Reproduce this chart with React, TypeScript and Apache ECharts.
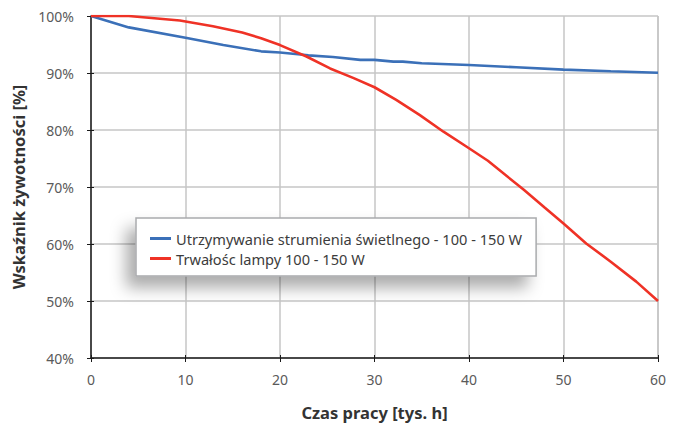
import React, { useEffect, useRef } from "react";
import * as echarts from "echarts";

const hoursK = [0, 4, 10, 14, 18, 20, 23, 25.6, 28.5, 30, 32, 33, 35, 40, 45, 50, 55, 60];
const fluxMaintenance = [100, 98.0, 96.2, 94.9, 93.8, 93.6, 93.1, 92.8, 92.3, 92.3, 92.0, 92.0, 91.7, 91.4, 91.0, 90.6, 90.3, 90.05];

const lifeHours = [0, 4, 9.4, 12.9, 16, 18, 20, 22.8, 25.3, 27.8, 30, 32.3, 34.8, 37.3, 40, 42, 45.8, 48, 50, 52.4, 55, 57.7, 60];
const lampLife = [100, 100, 99.2, 98.2, 97.1, 96.1, 94.9, 92.9, 90.8, 89.1, 87.5, 85.3, 82.6, 79.7, 76.8, 74.6, 69.5, 66.4, 63.6, 60.1, 56.9, 53.4, 50];

const seriesNames = [
  "Utrzymywanie strumienia świetlnego - 100 - 150 W",
  "Trwałośc lampy 100 - 150 W",
];
const xTitle = "Czas pracy [tys. h]";
const yTitle = "Wskaźnik żywotności [%]";

const FONT = "'Noto Sans', sans-serif";

export default function App() {
  const ref = useRef<HTMLDivElement>(null);
  useEffect(() => {
    if (!ref.current) return;
    const chart = echarts.init(ref.current, undefined, { renderer: "svg" });
    chart.setOption({
      animation: false,
      textStyle: { fontFamily: FONT },
      grid: { left: 91, right: 23, top: 16, bottom: 71 },
      legend: {
        orient: "vertical",
        left: 136,
        top: 218,
        padding: [13, 14, 10, 14],
        itemGap: 5,
        itemWidth: 21,
        itemHeight: 3,
        icon: "rect",
        backgroundColor: "#ffffff",
        borderColor: "#a9abad",
        borderWidth: 1.5,
        shadowColor: "rgba(0,0,0,0.33)",
        shadowBlur: 16,
        shadowOffsetX: -9,
        shadowOffsetY: 11,
        textStyle: { fontFamily: FONT, fontSize: 14.6, color: "#3c3c3c" },
        data: seriesNames,
      },
      xAxis: [
        {
          type: "value",
          min: 0,
          max: 60,
          interval: 10,
          name: xTitle,
          nameLocation: "middle",
          nameGap: 46,
          nameTextStyle: { fontFamily: FONT, fontSize: 16.5, fontWeight: "bold", color: "#333" },
          axisLine: { show: true, lineStyle: { color: "#1a1a1a", width: 1.5 } },
          axisTick: { show: true, length: 4, lineStyle: { color: "#1a1a1a" } },
          axisLabel: { fontFamily: FONT, fontSize: 14, color: "#5a5a5a", margin: 14 },
          splitLine: { show: true, lineStyle: { color: "#c6c6c6", width: 1.5 } },
        },
        {
          type: "value",
          min: 0,
          max: 60,
          interval: 10,
          position: "bottom",
          axisLine: { show: false },
          axisTick: { show: true, inside: true, length: 3, lineStyle: { color: "#1a1a1a" } },
          axisLabel: { show: false },
          splitLine: { show: false },
        },
      ],
      yAxis: [
        {
          type: "value",
          min: 40,
          max: 100,
          interval: 10,
          name: yTitle,
          nameLocation: "middle",
          nameGap: 59,
          nameTextStyle: { fontFamily: FONT, fontSize: 16.5, fontWeight: "bold", color: "#333" },
          axisLine: { show: true, lineStyle: { color: "#1a1a1a", width: 1.5 } },
          axisTick: { show: true, length: 4, lineStyle: { color: "#1a1a1a" } },
          axisLabel: { fontFamily: FONT, fontSize: 14, color: "#5a5a5a", margin: 17, formatter: "{value}%" },
          splitLine: { show: true, lineStyle: { color: "#c6c6c6", width: 1.5 } },
        },
        {
          type: "value",
          min: 40,
          max: 100,
          interval: 10,
          position: "left",
          axisLine: { show: false },
          axisTick: { show: true, inside: true, length: 3, lineStyle: { color: "#1a1a1a" } },
          axisLabel: { show: false },
          splitLine: { show: false },
        },
      ],
      graphic: [
        {
          type: "line",
          shape: { x1: 658, y1: 16, x2: 658, y2: 358 },
          style: { stroke: "#c6c6c6", lineWidth: 1.5 },
          z: 0,
        },
      ],
      series: [
        {
          name: seriesNames[0],
          type: "line",
          showSymbol: false,
          symbol: "none",
          color: "#3b70b8",
          lineStyle: { width: 2.6, color: "#3b70b8" },
          data: hoursK.map((h, i) => [h, fluxMaintenance[i]]),
          z: 3,
        },
        {
          name: seriesNames[1],
          type: "line",
          showSymbol: false,
          symbol: "none",
          color: "#ef3226",
          lineStyle: { width: 2.6, color: "#ef3226" },
          data: lifeHours.map((h, i) => [h, lampLife[i]]),
          z: 4,
        },
      ],
    });
    return () => chart.dispose();
  }, []);
  return <div ref={ref} style={{ width: 681, height: 429, position: "absolute", left: 0, top: 0, background: "#fff" }} />;
}
